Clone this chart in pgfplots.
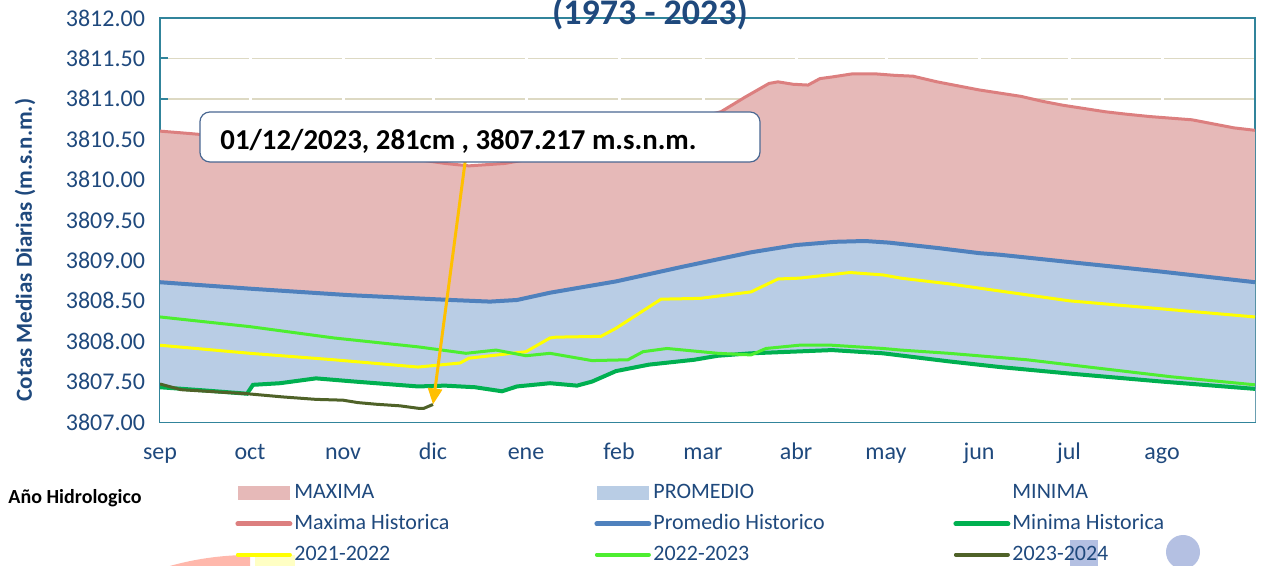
\documentclass[border=0pt]{standalone}
\usepackage{pgfplots}
\pgfplotsset{compat=1.18}
\usepackage{pgfplotstable}
\usepgfplotslibrary{fillbetween}
\usetikzlibrary{arrows.meta}
\usepackage{fontspec}
\setmainfont{Carlito}
\definecolor{pinkA}{HTML}{E6B9B8}
\definecolor{blueA}{HTML}{B9CDE5}
\definecolor{maxL}{HTML}{DC7F7F}
\definecolor{promL}{HTML}{4F81BD}
\definecolor{minL}{HTML}{00B050}
\definecolor{yelL}{HTML}{FFFF00}
\definecolor{grnL}{HTML}{4DEE30}
\definecolor{oliveL}{HTML}{4F6228}
\definecolor{axteal}{HTML}{31849B}
\definecolor{tickblue}{HTML}{1F497D}
\definecolor{gridtan}{HTML}{DDD9C3}
\definecolor{gridblue}{HTML}{E6EDF6}
\definecolor{boxline}{HTML}{4A6892}
\definecolor{arrowc}{HTML}{FFC000}
\definecolor{decoblue}{HTML}{B4C0E2}
\definecolor{decosal}{HTML}{FFB8AC}
\definecolor{decoyel}{HTML}{FFFFC4}

\pgfplotstableread{
d v
0 3810.60
10 3810.57
25 3810.52
40 3810.46
60 3810.38
80 3810.28
95 3810.20
103 3810.17
115 3810.20
130 3810.30
150 3810.48
170 3810.68
187 3810.84
195 3811.02
203 3811.19
206 3811.21
211 3811.18
216 3811.17
220 3811.25
224 3811.27
231 3811.31
238 3811.31
245 3811.29
251 3811.28
259 3811.21
266 3811.16
273 3811.11
280 3811.07
287 3811.03
294 3810.97
301 3810.92
308 3810.88
315 3810.84
322 3810.81
330 3810.78
337 3810.76
344 3810.74
351 3810.69
358 3810.64
365 3810.61
}\maxtab

\pgfplotstableread{
d v
0 3808.73
30 3808.65
63 3808.57
97 3808.51
110 3808.49
119 3808.51
130 3808.60
152 3808.74
174 3808.92
197 3809.10
212 3809.19
225 3809.23
235 3809.24
243 3809.22
260 3809.15
273 3809.09
280 3809.07
303 3808.98
334 3808.86
365 3808.73
}\promtab

\pgfplotstableread{
d v
0 3807.43
15 3807.39
29 3807.35
31 3807.46
40 3807.48
52 3807.54
65 3807.50
86 3807.44
95 3807.45
105 3807.43
114 3807.38
119 3807.44
130 3807.48
139 3807.45
144 3807.50
152 3807.63
163 3807.71
178 3807.77
186 3807.82
197 3807.85
224 3807.89
241 3807.85
263 3807.75
280 3807.68
303 3807.60
334 3807.50
365 3807.41
}\mintab

\pgfplotstableread{
d v
0 3807.95
30 3807.85
58 3807.77
86 3807.68
100 3807.73
103 3807.79
122 3807.87
130 3808.04
132 3808.05
147 3808.06
152 3808.16
167 3808.52
180 3808.53
197 3808.61
206 3808.77
213 3808.78
230 3808.85
241 3808.82
247 3808.78
263 3808.71
303 3808.50
365 3808.30
}\yeartwo

\pgfplotstableread{
d v
0 3808.30
30 3808.18
58 3808.04
86 3807.93
102 3807.85
112 3807.89
122 3807.82
130 3807.85
144 3807.76
156 3807.77
161 3807.87
169 3807.91
186 3807.85
197 3807.83
202 3807.91
213 3807.95
224 3807.95
241 3807.91
247 3807.89
263 3807.85
289 3807.77
337 3807.56
365 3807.46
}\yearthree

\pgfplotstableread{
d v
0 3807.47
7 3807.40
20 3807.37
29 3807.35
35 3807.33
41 3807.31
52 3807.28
61 3807.27
66 3807.24
72 3807.22
80 3807.20
86 3807.17
88 3807.17
91 3807.217
}\yearfour

\begin{document}
\begin{tikzpicture}
% decorative partial shapes at bottom
\begin{scope}
\clip (0pt,-80pt) rectangle (45pt,-60pt);
\fill[decosal] (45pt,-214.5pt) circle (148pt);
\end{scope}
\fill[decoyel] (47.5pt,-66.5pt) rectangle (67.5pt,-80pt);
\fill[decoblue] (455pt,-59pt) rectangle (469pt,-80pt);
\fill[decoblue] (511.5pt,-65pt) circle (8.5pt);

\begin{axis}[
  name=ax, at={(0,0)}, anchor=south west,
  scale only axis, width=547.5pt, height=202pt,
  clip mode=individual,
  xmin=0, xmax=365, ymin=3807, ymax=3812,
  xtick={0,30,61,91,122,153,181,212,242,273,303,334},
  xticklabels={sep,oct,nov,dic,ene,feb,mar,abr,may,jun,jul,ago},
  extra x ticks={30,61,91,122,153,181,212,242,273,303,334},
  extra x tick labels={},
  extra x tick style={grid=major, major grid style={color=white, line width=1.5pt}, major tick length=0pt},
  ytick={3807,3807.5,...,3812},
  minor y tick num=4,
  ymajorgrids, yminorgrids,
  major grid style={color=gridtan, line width=0.8pt},
  minor grid style={color=gridblue, line width=1.1pt},
  minor tick length=0pt,
  tick align=inside, xtick pos=bottom, ytick pos=left,
  major tick length=4pt,
  tick style={color=axteal, line width=0.9pt},
  axis line style={color=axteal, line width=1.2pt},
  /pgf/number format/.cd, fixed, fixed zerofill, precision=2, 1000 sep={}, assume math mode=true,
  /pgfplots/.cd,
  ticklabel style={font=\fontsize{12}{14}\selectfont, text=tickblue},
  yticklabel style={xshift=-4pt},
  xticklabel style={anchor=base, yshift=-19pt},
  legend columns=3,
  legend cell align=left,
  legend style={at={(axis description cs:0.0685,-0.148)}, anchor=north west,
    draw=none, fill=none, font=\fontsize{11}{13}\selectfont, text=tickblue,
    /tikz/every even column/.append style={column sep=0pt},
    row sep=4.6pt, inner sep=0pt, nodes={inner sep=1pt}},
]
\addplot[draw=none, name path=pmax, forget plot] table[x=d,y=v] {\maxtab};
\addplot[draw=none, name path=pprom, forget plot] table[x=d,y=v] {\promtab};
\addplot[draw=none, name path=pmin, forget plot] table[x=d,y=v] {\mintab};
\addplot[draw=none, name path=pbot, forget plot] coordinates {(0,3807) (365,3807)};

\addplot[fill=pinkA, draw=none, legend image code/.code={\fill[pinkA] (0pt,-3.5pt) rectangle (26pt,3.5pt);}] fill between[of=pmax and pbot];
\addlegendentry{\makebox[149pt][l]{MAXIMA}}
\addplot[fill=blueA, draw=none, legend image code/.code={\fill[blueA] (0pt,-3.5pt) rectangle (26pt,3.5pt);}] fill between[of=pprom and pbot];
\addlegendentry{\makebox[149pt][l]{PROMEDIO}}
\addplot[fill=white, draw=none, legend image code/.code={\fill[white] (0pt,-3.5pt) rectangle (26pt,3.5pt);}] fill between[of=pmin and pbot];
\addlegendentry{MINIMA}

\addplot[color=maxL, line width=1.5pt, legend image code/.code={\draw[maxL, line width=2.5pt, line cap=round] (0pt,0pt) -- (26pt,0pt);}] table[x=d,y=v] {\maxtab};
\addlegendentry{\makebox[149pt][l]{Maxima Historica}}
\addplot[color=promL, line width=2pt, legend image code/.code={\draw[promL, line width=2.5pt, line cap=round] (0pt,0pt) -- (26pt,0pt);}] table[x=d,y=v] {\promtab};
\addlegendentry{\makebox[149pt][l]{Promedio Historico}}
\addplot[color=minL, line width=2pt, legend image code/.code={\draw[minL, line width=2.5pt, line cap=round] (0pt,0pt) -- (26pt,0pt);}] table[x=d,y=v] {\mintab};
\addlegendentry{Minima Historica}
\addplot[color=yelL, line width=1.5pt, legend image code/.code={\draw[yelL, line width=2pt, line cap=round] (0pt,0pt) -- (26pt,0pt);}] table[x=d,y=v] {\yeartwo};
\addlegendentry{\makebox[149pt][l]{2021-2022}}
\addplot[color=grnL, line width=1.5pt, legend image code/.code={\draw[grnL, line width=2pt, line cap=round] (0pt,0pt) -- (26pt,0pt);}] table[x=d,y=v] {\yearthree};
\addlegendentry{\makebox[149pt][l]{2022-2023}}
\addplot[color=oliveL, line width=1.5pt, legend image code/.code={\draw[oliveL, line width=2pt, line cap=round] (0pt,0pt) -- (26pt,0pt);}] table[x=d,y=v] {\yearfour};
\addlegendentry{2023-2024}

\draw[arrowc, line width=1.5pt, -{Triangle[length=8pt,width=7pt]}] (axis cs:101.7,3810.218) -- (axis cs:91,3807.217);
\draw[boxline, fill=white, line width=0.6pt, rounded corners=5pt] (axis cs:13.3,3810.837) rectangle (axis cs:200,3810.218);
\node[anchor=west, font=\bfseries\fontsize{14.4}{16}\selectfont, text=black, inner sep=0pt] at (axis cs:20,3810.47) {01/12/2023, 281cm , 3807.217 m.s.n.m.};

\node[rotate=90, font=\bfseries\fontsize{11.5}{13}\selectfont, text=tickblue] at (axis description cs:-0.1233,0.4257) {Cotas Medias Diarias (m.s.n.m.)};
\node[font=\bfseries\fontsize{10}{12}\selectfont, text=black] at (axis description cs:-0.0776,-0.188) {Año Hidrologico};
\node[anchor=base, font=\bfseries\fontsize{18}{20}\selectfont, text=tickblue] at (axis description cs:0.4475,0.985) {(1973 - 2023)};
\end{axis}
\pgfresetboundingbox
\useasboundingbox (-80pt,-72pt) rectangle (551pt,211pt);
\end{tikzpicture}
\end{document}
